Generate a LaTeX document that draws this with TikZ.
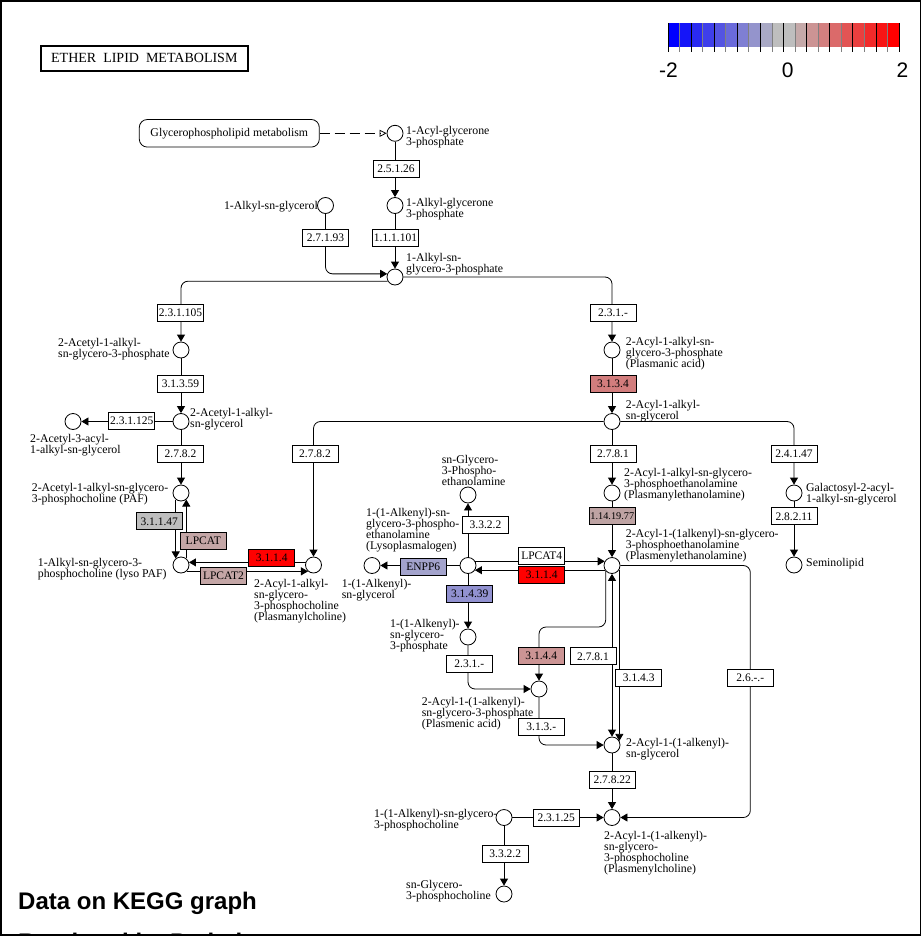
\documentclass[tikz,border=0pt]{standalone}
\usepackage{fontspec}
\setmainfont{Liberation Serif}
\newfontfamily\sansf{Liberation Sans}
\usetikzlibrary{arrows.meta}
\pgfdeclarelayer{bg}
\pgfsetlayers{bg,main}
\definecolor{kgray}{RGB}{190,190,190}
\definecolor{cRed}{RGB}{255,0,0}
\definecolor{cTTF}{RGB}{210,125,125}
\definecolor{cOne}{RGB}{190,163,163}
\definecolor{cLP}{RGB}{196,166,166}
\definecolor{cTFF}{RGB}{203,148,148}
\definecolor{cEN}{RGB}{163,163,204}
\definecolor{cTFT}{RGB}{145,145,208}
\begin{document}
\begin{tikzpicture}[x=1pt,y=-1pt,
  cpd/.style={circle, draw, fill=white, minimum size=16pt, inner sep=0pt, line width=0.8pt},
  enz/.style={rectangle, draw, fill=white, minimum width=46pt, minimum height=17pt, inner sep=0pt, line width=0.8pt, font=\fontsize{11.5}{11}\selectfont},
  lbl/.style={inner sep=0pt, align=left, font={\fontsize{11.8}{11}\selectfont\lineskiplimit=-20pt}},
  rxn/.style={draw, line width=0.8pt, -{Triangle[length=7pt,width=8pt]}},
  rxnb/.style={draw, line width=0.8pt, {Triangle[length=7pt,width=8pt]}-{Triangle[length=7pt,width=8pt]}},
  rc/.style={rounded corners=7pt}]
\useasboundingbox (0,0) rectangle (922,936);

% ---- title and map link
\node[draw, line width=2pt, minimum width=207pt, minimum height=25pt, inner sep=0pt,
      font=\fontsize{14}{14}\selectfont] (T) at (144.3,58.3) {ETHER\ \ LIPID\ \ METABOLISM};
\node[draw, rounded corners=8pt, minimum width=180pt, minimum height=27.6pt, inner sep=0pt,
      line width=0.8pt, font=\fontsize{11.8}{11}\selectfont] (Map) at (229.3,133.3) {Glycerophospholipid metabolism};

% ---- colour bar
\foreach \i in {0,...,19}{
  \pgfmathsetmacro\xa{668+\i*11.55}
  \pgfmathsetmacro\xb{668+(\i+1)*11.55}
  \ifnum\i<10
    \pgfmathtruncatemacro\p{round(100*\i/9)}\def\cc{kgray!\p!blue}
  \else
    \pgfmathtruncatemacro\p{round(100*(\i-10)/9)}\def\cc{red!\p!kgray}
  \fi
  \fill[fill=\cc] (\xa,23) rectangle (\xb,47);
}
\foreach \k in {0,...,20}{
  \pgfmathsetmacro\xx{668+\k*11.55}
  \ifodd\k \def\tc{gray}\else \def\tc{black}\fi
  \draw[draw=\tc, line width=0.8pt] (\xx,23) -- (\xx,52);
}
\node[anchor=base, inner sep=0pt, font=\sansf\fontsize{21}{21}\selectfont] (cbA) at (668.5,78) {-2};
\node[anchor=base, inner sep=0pt, font=\sansf\fontsize{21}{21}\selectfont] (cbB) at (787.7,78) {0};
\node[anchor=base, inner sep=0pt, font=\sansf\fontsize{21}{21}\selectfont] (cbC) at (902.5,78) {2};

% ---- compounds
\node[cpd] (C1) at (395,133.3) {};
\node[cpd] (C2) at (395,205.5) {};
\node[cpd] (C3) at (325.5,205.5) {};
\node[cpd] (C4) at (395,277) {};
\node[cpd] (C5) at (181,350) {};
\node[cpd] (C6) at (181,421.5) {};
\node[cpd] (C7) at (73,421.5) {};
\node[cpd] (C8) at (181,493) {};
\node[cpd] (C9) at (181,565) {};
\node[cpd] (C10) at (313.5,565) {};
\node[cpd] (C11) at (612,350) {};
\node[cpd] (C12) at (612,421.5) {};
\node[cpd] (C13) at (612,493) {};
\node[cpd] (C14) at (612,565.5) {};
\node[cpd] (C15) at (794,493) {};
\node[cpd] (C16) at (794,565) {};
\node[cpd] (C17) at (468,495) {};
\node[cpd] (C18) at (468,565.5) {};
\node[cpd] (C19) at (372,565.5) {};
\node[cpd] (C20) at (468,637) {};
\node[cpd] (C21) at (539,689) {};
\node[cpd] (C22) at (612,745) {};
\node[cpd] (C23) at (612,817.5) {};
\node[cpd] (C24) at (504,817.5) {};
\node[cpd] (C25) at (504,894) {};

% ---- compound labels
\node[lbl, anchor=north west] (L1) at (406,126) {1-Acyl-glycerone\\3-phosphate};
\node[lbl, anchor=north west] (L2) at (406,197.7) {1-Alkyl-glycerone\\3-phosphate};
\node[lbl, anchor=north east] (L3) at (318,201) {1-Alkyl-sn-glycerol};
\node[lbl, anchor=north west] (L4) at (406,253.3) {1-Alkyl-sn-\\glycero-3-phosphate};
\node[lbl, anchor=north west] (L5) at (58,338.3) {2-Acetyl-1-alkyl-\\sn-glycero-3-phosphate};
\node[lbl, anchor=north west] (L6) at (190,408.3) {2-Acetyl-1-alkyl-\\sn-glycerol};
\node[lbl, anchor=north west] (L7) at (30,434.3) {2-Acetyl-3-acyl-\\1-alkyl-sn-glycerol};
\node[lbl, anchor=north west] (L8) at (31.7,483.3) {2-Acetyl-1-alkyl-sn-glycero-\\3-phosphocholine (PAF)};
\node[lbl, anchor=north west] (L9) at (37.7,557.7) {1-Alkyl-sn-glycero-3-\\phosphocholine (lyso PAF)};
\node[lbl, anchor=north west] (L10) at (254,579.3) {2-Acyl-1-alkyl-\\sn-glycero-\\3-phosphocholine\\(Plasmanylcholine)};
\node[lbl, anchor=north west] (L11) at (625.7,336.7) {2-Acyl-1-alkyl-sn-\\glycero-3-phosphate\\(Plasmanic acid)};
\node[lbl, anchor=north west] (L12) at (625.7,400) {2-Acyl-1-alkyl-\\sn-glycerol};
\node[lbl, anchor=north west] (L13) at (624,468.3) {2-Acyl-1-alkyl-sn-glycero-\\3-phosphoethanolamine\\(Plasmanylethanolamine)};
\node[lbl, anchor=north west] (L14) at (625.7,529.3) {2-Acyl-1-(1alkenyl)-sn-glycero-\\3-phosphoethanolamine\\(Plasmenylethanolamine)};
\node[lbl, anchor=north west] (L15) at (806,483.3) {Galactosyl-2-acyl-\\1-alkyl-sn-glycerol};
\node[lbl, anchor=north west] (L16) at (806,558.3) {Seminolipid};
\node[lbl, anchor=north west] (L17) at (441.7,455) {sn-Glycero-\\3-Phospho-\\ethanolamine};
\node[lbl, anchor=north west] (L18) at (366,508.3) {1-(1-Alkenyl)-sn-\\glycero-3-phospho-\\ethanolamine\\(Lysoplasmalogen)};
\node[lbl, anchor=north west] (L19) at (341.7,579) {1-(1-Alkenyl)-\\sn-glycerol};
\node[lbl, anchor=north west] (L20) at (390,619) {1-(1-Alkenyl)-\\sn-glycero-\\3-phosphate};
\node[lbl, anchor=north west] (L21) at (421.7,696.7) {2-Acyl-1-(1-alkenyl)-\\sn-glycero-3-phosphate\\(Plasmenic acid)};
\node[lbl, anchor=north west] (L22) at (626,738.3) {2-Acyl-1-(1-alkenyl)-\\sn-glycerol};
\node[lbl, anchor=north west] (L23) at (604,830.7) {2-Acyl-1-(1-alkenyl)-\\sn-glycero-\\3-phosphocholine\\(Plasmenylcholine)};
\node[lbl, anchor=north west] (L24) at (374,809.3) {1-(1-Alkenyl)-sn-glycero-\\3-phosphocholine};
\node[lbl, anchor=north west] (L25) at (406,880) {sn-Glycero-\\3-phosphocholine};

% ---- enzymes
\node[enz] (E1) at (396,168.5) {2.5.1.26};
\node[enz] (E2) at (325.5,238) {2.7.1.93};
\node[enz] (E3) at (395.5,238) {1.1.1.101};
\node[enz] (E4) at (180.5,313) {2.3.1.105};
\node[enz] (E5) at (180.5,383.5) {3.1.3.59};
\node[enz] (E6) at (131.7,421) {2.3.1.125};
\node[enz] (E7) at (180.5,453.5) {2.7.8.2};
\node[enz] (E8) at (315,453.5) {2.7.8.2};
\node[enz, fill=kgray] (E9) at (159.3,521.3) {3.1.1.47};
\node[enz, fill=cLP] (E10) at (203.3,541) {LPCAT};
\node[enz, fill=cRed] (E11) at (271.7,557.7) {3.1.1.4};
\node[enz, fill=cLP] (E12) at (223.5,576) {LPCAT2};
\node[enz] (E13) at (613,313) {2.3.1.-};
\node[enz, fill=cTTF] (E14) at (613,383.5) {3.1.3.4};
\node[enz] (E15) at (613,453.5) {2.7.8.1};
\node[enz, fill=cOne, font=\fontsize{10.3}{11}\selectfont] (E16) at (612.3,516.3) {1.14.19.77};
\node[enz] (E17) at (794,453.5) {2.4.1.47};
\node[enz] (E18) at (794,516.3) {2.8.2.11};
\node[enz] (E19) at (485.5,525) {3.3.2.2};
\node[enz, fill=cEN] (E20) at (423.3,566.7) {ENPP6};
\node[enz] (E21) at (541.7,555.7) {LPCAT4};
\node[enz, fill=cRed] (E22) at (541.7,574.7) {3.1.1.4};
\node[enz, fill=cTFT] (E23) at (469.7,594.2) {3.1.4.39};
\node[enz] (E24) at (469.3,664) {2.3.1.-};
\node[enz, fill=cTFF] (E25) at (541.3,656) {3.1.4.4};
\node[enz] (E26) at (593,656.3) {2.7.8.1};
\node[enz] (E27) at (638.7,677.7) {3.1.4.3};
\node[enz] (E28) at (750.3,677.7) {2.6.-.-};
\node[enz] (E29) at (541.3,726.7) {3.1.3.-};
\node[enz] (E30) at (612.2,780) {2.7.8.22};
\node[enz] (E31) at (556.3,818) {2.3.1.25};
\node[enz] (E32) at (505.3,854) {3.3.2.2};

% ---- reactions
\begin{pgfonlayer}{bg}
\draw[line width=0.8pt, dash pattern=on 10pt off 5pt, -{Triangle[open,length=7pt,width=7pt]}] (Map) -- (C1);
\draw[rxn] (C1) -- (C2);
\draw[rxn] (C2) -- (C4);
\draw[rxn, rc] (C3) |- (C4.158);
\draw[rxn, rc] (C4.210) -| (C5);
\draw[rxn, rc] (C4) -| (C11);
\draw[rxn] (C5) -- (C6);
\draw[rxn] (C6) -- (C7);
\draw[rxn] (C6) -- (C8);
\draw[rxn] (C8.231) -- (C9.129);
\draw[rxn] (C9.51) -- (C8.309);
\draw[rxn] (C10.162) -- (C9.18);
\draw[rxn] (C9.311) -- (C10.229);
\draw[rxn, rc] (C12) -| (C10);
\draw[rxn, rc] (C12) -| (C15);
\draw[rxn] (C11) -- (C12);
\draw[rxn] (C12) -- (C13);
\draw[rxn] (C13) -- (C14);
\draw[rxn] (C15) -- (C16);
\draw[rxn] (C18) -- (C17);
\draw[rxn] (C18) -- (C19);
\draw[rxn] (C18.30) -- (C14.150);
\draw[rxn] (C14.214) -- (C18.326);
\draw[rxn] (C18) -- (C20);
\draw[rxn, rc] (C20) |- (C21);
\draw[rxn, rc] (C14.221) |- (C21 |- 0,627) -- (C21);
\draw[rxnb] (C14) -- (C22);
\draw[rxn] (C14.331) -- (C22.29);
\draw[rxn, rc] (C21) |- (C22);
\draw[rxn] (C22) -- (C23);
\draw[rxn] (C24) -- (C23);
\draw[rxn, rc] (C14) -| (E28.center) |- (C23);
\draw[rxn] (C24) -- (C25);
\end{pgfonlayer}

% ---- footer text and frame
\begin{scope}
\clip (0,0) rectangle (922,936);
\node[anchor=base west, inner sep=0pt, font=\sansf\bfseries\fontsize{24}{24}\selectfont] (DK) at (18,909) {Data on KEGG graph};
\node[anchor=base west, inner sep=0pt, font=\sansf\bfseries\fontsize{24}{24}\selectfont] (RP) at (18,950.5) {Rendered by Pathview};
\end{scope}
\draw[line width=1.5pt] (1,1) rectangle (920.5,935);
\end{tikzpicture}
\end{document}
